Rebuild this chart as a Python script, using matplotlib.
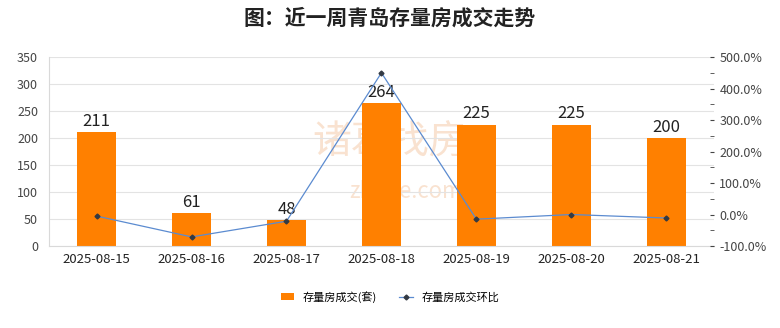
import numpy as np
import matplotlib.pyplot as plt
from matplotlib.lines import Line2D
from matplotlib.patches import Patch

plt.rcParams['font.family'] = ['Noto Sans CJK SC', 'DejaVu Sans']

dates = ["2025-08-15", "2025-08-16", "2025-08-17", "2025-08-18",
         "2025-08-19", "2025-08-20", "2025-08-21"]
deals = [211, 61, 48, 264, 225, 225, 200]
mom = [-5.0, -71.1, -21.3, 450.0, -14.8, 0.0, -11.1]

fig = plt.figure(figsize=(7.8, 3.28), dpi=100)
ax = fig.add_axes([0.063, 0.25, 0.852, 0.576])
x = np.arange(len(dates))

ax.bar(x, deals, width=0.41, color="#FF8000", zorder=2)
for xi, v in zip(x, deals):
    ax.text(xi, v + 4, str(v), ha="center", va="bottom", fontsize=12, color="#222222", zorder=3)

ax.set_xlim(-0.5, len(dates) - 0.5)
ax.set_ylim(0, 350)
ax.set_yticks(range(0, 351, 50))
ax.set_xticks(x)
ax.set_xticklabels(dates, fontsize=9.5, color="#222222")
ax.tick_params(axis="y", length=0, labelsize=9, labelcolor="#444444", pad=8)
ax.tick_params(axis="x", length=0, pad=5)
ax.grid(axis="y", color="#e3e3e3", linewidth=0.8, zorder=0)
for s in ["top", "right"]:
    ax.spines[s].set_visible(False)
for s in ["left", "bottom"]:
    ax.spines[s].set_color("#d9d9d9")

# faint watermark, behind the bars
ax.text(0.50, 0.565, "诸葛找房", fontsize=28, color="#f9e2d0", ha="center", va="center",
        transform=fig.transFigure, zorder=1)
ax.text(0.52, 0.415, "zhuge.com", fontsize=16, color="#f9e2d0", ha="center", va="center",
        transform=fig.transFigure, zorder=1)

ax2 = ax.twinx()
ax2.plot(x, mom, color="#5b8bd0", linewidth=0.9, marker="D", markersize=2.5,
         markerfacecolor="#333a44", markeredgecolor="#333a44", zorder=3)
ax2.set_ylim(-100, 500)
ax2.set_yticks(range(-100, 501, 100))
ax2.set_yticks(range(-50, 500, 100), minor=True)
ax2.set_yticklabels([f"{t}.0%" for t in range(-100, 501, 100)])
ax2.tick_params(axis="y", which="both", direction="in", length=3, color="#444444",
                labelsize=9, labelcolor="#444444", pad=4)
for s in ["top", "left", "bottom", "right"]:
    ax2.spines[s].set_visible(False)

handles = [Patch(facecolor="#FF8000", edgecolor="none"),
           Line2D([0], [0], color="#5b8bd0", linewidth=0.9, marker="D", markersize=2.5,
                  markerfacecolor="#333a44", markeredgecolor="#333a44")]
fig.legend(handles, ["存量房成交(套)", "存量房成交环比"], loc="center",
           bbox_to_anchor=(0.5, 0.095), ncol=2, frameon=False, fontsize=8,
           handlelength=1.2, handleheight=0.6, columnspacing=2.0)

fig.text(0.5, 0.945, "图：近一周青岛存量房成交走势", ha="center", va="center",
         fontsize=15, fontweight="bold", color="#222222")

fig.savefig("out.png", dpi=100, facecolor="white")
